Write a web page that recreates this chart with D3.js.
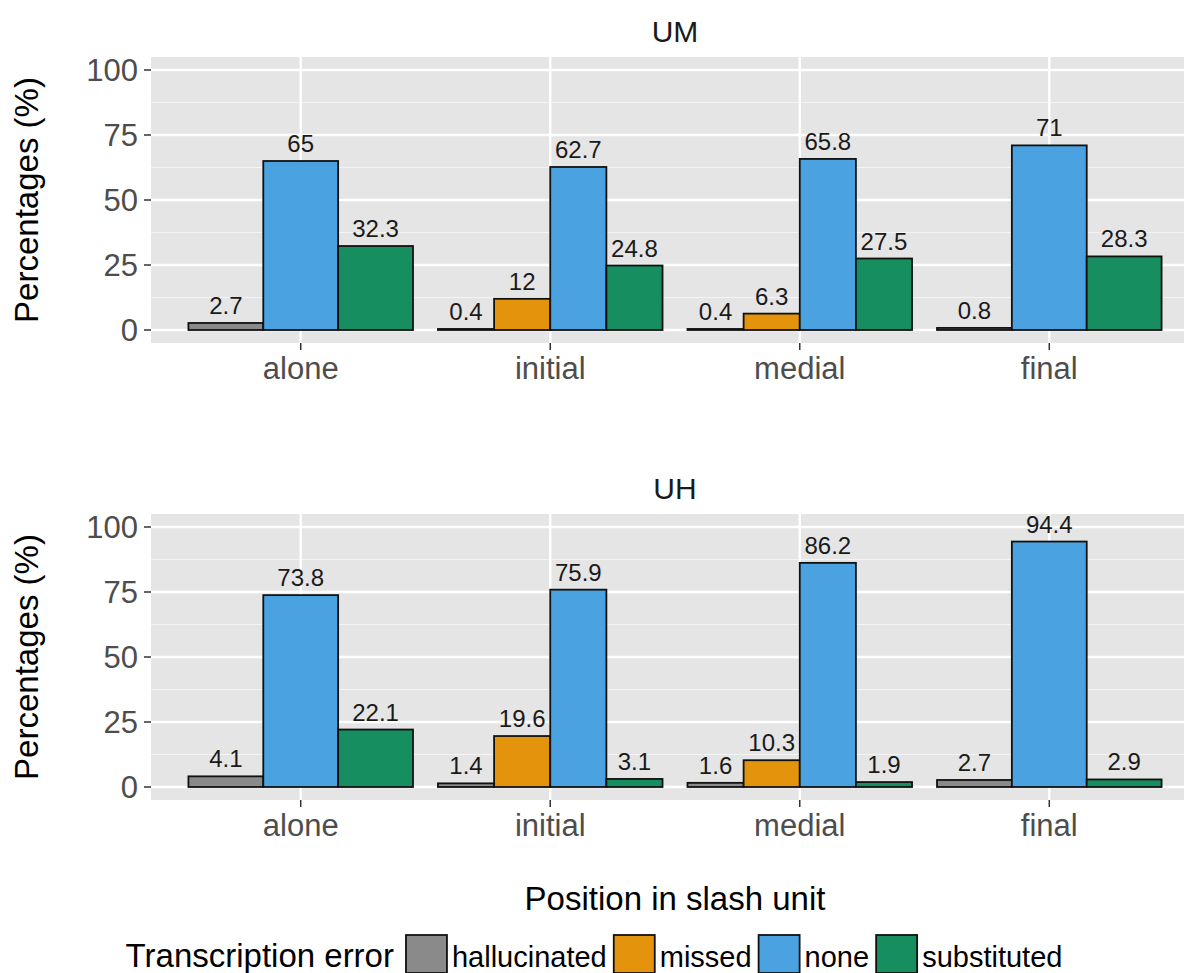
<!DOCTYPE html>
<html><head><meta charset="utf-8">
<script src="https://cdn.jsdelivr.net/npm/d3@7"></script>
<style>body{margin:0;background:#fff;overflow:hidden} svg{display:block} text{font-family:"Liberation Sans",Arial,Helvetica,sans-serif}</style>
</head><body><svg id="c" width="1184" height="973"></svg>
<script>
const categories = ["alone","initial","medial","final"];
const seriesNames = ["hallucinated","missed","none","substituted"];
const seriesColors = ["#8a8a8a","#e3940c","#4aa3e0","#178e5f"];
const panelTitles = ["UM","UH"];
const umHallucinated = [2.7,0.4,0.4,0.8];
const umMissed = [null,12,6.3,null];
const umNone = [65,62.7,65.8,71];
const umSubstituted = [32.3,24.8,27.5,28.3];
const uhHallucinated = [4.1,1.4,1.6,2.7];
const uhMissed = [null,19.6,10.3,null];
const uhNone = [73.8,75.9,86.2,94.4];
const uhSubstituted = [22.1,3.1,1.9,2.9];
const yTicks = [0,25,50,75,100];
const yMinor = [12.5,37.5,62.5,87.5];
const xTitle = "Position in slash unit";
const yTitle = "Percentages (%)";
const legendTitle = "Transcription error";

const panelData = [
  [umHallucinated, umMissed, umNone, umSubstituted],
  [uhHallucinated, uhMissed, uhNone, uhSubstituted]
];

const svg = d3.select("#c");
const left = 151, right = 1199;
const panels = [{top:57,bottom:343},{top:514,bottom:800}];
const color = d3.scaleOrdinal().domain(seriesNames).range(seriesColors);
const x = d3.scalePoint().domain(categories).range([left,right]).padding(0.6);
const unit = x.step();

panels.forEach((p, pi) => {
  const y = d3.scaleLinear().domain([-5,105]).range([p.bottom,p.top]);
  const g = svg.append("g");
  g.append("rect").attr("x",left).attr("y",p.top).attr("width",right-left).attr("height",p.bottom-p.top).attr("fill","#e5e5e5");
  g.selectAll(".minor").data(yMinor).join("line")
    .attr("x1",left).attr("x2",right).attr("y1",d=>y(d)).attr("y2",d=>y(d))
    .attr("stroke","#f4f4f4").attr("stroke-width",1.2);
  g.selectAll(".major").data(yTicks).join("line")
    .attr("x1",left).attr("x2",right).attr("y1",d=>y(d)).attr("y2",d=>y(d))
    .attr("stroke","#fff").attr("stroke-width",2.4);
  g.selectAll(".vmajor").data(categories).join("line")
    .attr("x1",d=>x(d)).attr("x2",d=>x(d)).attr("y1",p.top).attr("y2",p.bottom)
    .attr("stroke","#fff").attr("stroke-width",2.4);

  const rows = [];
  categories.forEach((c, ci) => {
    const present = seriesNames.filter((s, si) => panelData[pi][si][ci] != null);
    const dodge = d3.scaleBand().domain(present).range([x(c)-0.45*unit, x(c)+0.45*unit]);
    present.forEach(s => {
      const v = panelData[pi][seriesNames.indexOf(s)][ci];
      rows.push({c, s, v, x0: dodge(s), w: dodge.bandwidth()});
    });
  });
  g.selectAll(".bar").data(rows).join("rect")
    .attr("x",d=>d.x0).attr("width",d=>d.w)
    .attr("y",d=>y(d.v)).attr("height",d=>y(0)-y(d.v))
    .attr("fill",d=>color(d.s)).attr("stroke","#111").attr("stroke-width",1.8);
  g.selectAll(".lab").data(rows).join("text")
    .attr("x",d=>d.x0+d.w/2).attr("y",d=>y(d.v)-9)
    .attr("text-anchor","middle").attr("font-size",24).attr("fill","#1a1a1a")
    .text(d=>String(d.v));

  g.selectAll(".yt").data(yTicks).join("line")
    .attr("x1",left-7).attr("x2",left).attr("y1",d=>y(d)).attr("y2",d=>y(d))
    .attr("stroke","#333").attr("stroke-width",1.5);
  g.selectAll(".yl").data(yTicks).join("text")
    .attr("x",left-13).attr("y",d=>y(d)).attr("dy","0.36em")
    .attr("text-anchor","end").attr("font-size",31).attr("fill","#4d4d4d")
    .text(d=>d);
  g.selectAll(".xt").data(categories).join("line")
    .attr("x1",d=>x(d)).attr("x2",d=>x(d)).attr("y1",p.bottom).attr("y2",p.bottom+7)
    .attr("stroke","#333").attr("stroke-width",1.5);
  g.selectAll(".xl").data(categories).join("text")
    .attr("x",d=>x(d)).attr("y",p.bottom+36)
    .attr("text-anchor","middle").attr("font-size",31).attr("fill","#4d4d4d")
    .text(d=>d);
  g.append("text").attr("x",(left+right)/2).attr("y",p.top-15)
    .attr("text-anchor","middle").attr("font-size",30).attr("fill","#1a1a1a")
    .text(panelTitles[pi]);
  g.append("text").attr("transform",`translate(38,${(p.top+p.bottom)/2}) rotate(-90)`)
    .attr("text-anchor","middle").attr("font-size",33).attr("fill","#000")
    .text(yTitle);
});

svg.append("text").attr("x",(left+right)/2).attr("y",910)
  .attr("text-anchor","middle").attr("font-size",33).attr("fill","#000").text(xTitle);

const lg = svg.append("g");
const lt = lg.append("text").attr("y",967).attr("font-size",33).attr("fill","#000").text(legendTitle);
let cx = lt.node().getComputedTextLength() + 12;
const keyW = 41, keyH = 38;
seriesNames.forEach(s => {
  lg.append("rect").attr("x",cx).attr("y",935).attr("width",keyW).attr("height",keyH)
    .attr("fill",color(s)).attr("stroke","#111").attr("stroke-width",1.8);
  cx += keyW + 5;
  const t = lg.append("text").attr("x",cx).attr("y",967).attr("font-size",29).attr("fill","#000").text(s);
  cx += t.node().getComputedTextLength() + 7;
});
const totalW = cx - 7;
lg.attr("transform",`translate(${594 - totalW/2},0)`);
</script></body></html>
